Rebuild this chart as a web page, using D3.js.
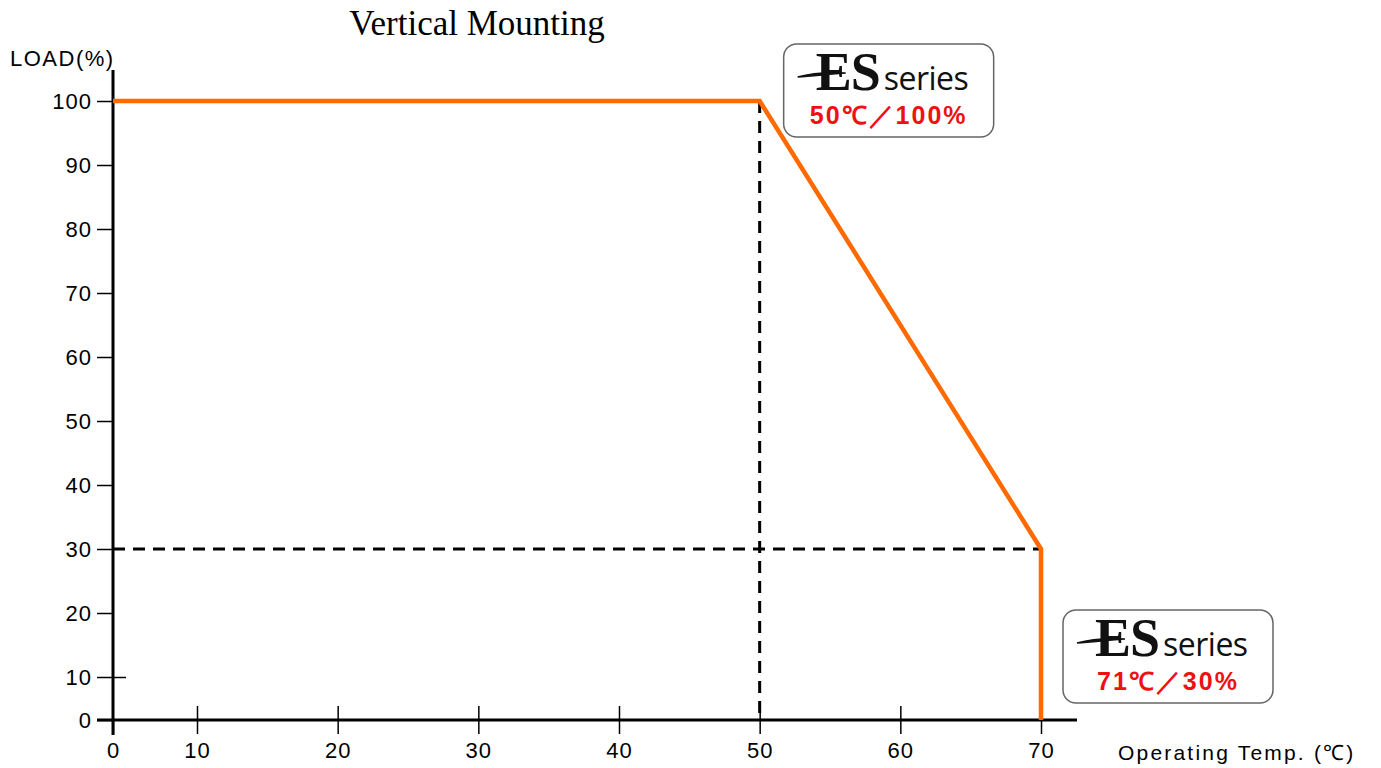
<!DOCTYPE html>
<html>
<head>
<meta charset="utf-8">
<script src="https://cdn.jsdelivr.net/npm/d3@7"></script>
<style>
  body { margin: 0; background: #fff; }
  svg { display: block; }
</style>
</head>
<body>
<div id="chart"></div>
<script>
// data
var tempValues = [0, 50, 70, 70];
var loadValues = [100, 100, 30, 0];
var xTicks = [0, 10, 20, 30, 40, 50, 60, 70];
var yTicks = [0, 10, 20, 30, 40, 50, 60, 70, 80, 90, 100];
var labelTemps = [50, 70];
var labelLoads = [100, 30];
var labelTexts = ["50℃／100%", "71℃／30%"];

var width = 1381, height = 768;

var svg = d3.select("#chart")
    .append("svg")
    .attr("width", width)
    .attr("height", height);

// axes are compressed between 0 and 10 in the original
var xScale = d3.scaleLinear()
    .domain([0, 10, 70])
    .range([113, 197, 1041]);

var yScale = d3.scaleLinear()
    .domain([0, 10, 100])
    .range([720, 677, 101]);

//title
svg.append("text")
    .attr("x", 477)
    .attr("y", 35)
    .attr("text-anchor", "middle")
    .attr("font-family", "'Liberation Serif', 'DejaVu Serif', serif")
    .attr("font-size", 35)
    .text("Vertical Mounting");

//y-axis label
svg.append("text")
    .attr("x", 10)
    .attr("y", 66)
    .attr("font-family", "'Liberation Sans', Arial, sans-serif")
    .attr("font-size", 22)
    .attr("letter-spacing", 1.5)
    .text("LOAD(%)");

//x-axis label
svg.append("text")
    .attr("x", 1118)
    .attr("y", 760)
    .attr("font-family", "'Liberation Sans', Arial, sans-serif")
    .attr("font-size", 21)
    .attr("letter-spacing", 2.2)
    .text("Operating Temp. (℃)");

//y axis
var y_axis = d3.axisLeft(yScale)
    .tickValues(yTicks)
    .tickSizeInner(16)
    .tickSizeOuter(0)
    .tickPadding(5);
var gy = svg.append("g")
    .attr("transform", "translate(113,0)")
    .call(y_axis);
gy.select(".domain").remove();
gy.selectAll("line").attr("stroke", "#000").attr("stroke-width", 1.5);
gy.selectAll("text")
    .attr("font-family", "'Liberation Sans', Arial, sans-serif")
    .attr("font-size", 22)
    .attr("letter-spacing", 1)
    .attr("fill", "#000");

// the 10 tick pokes through to the right
svg.append("g")
    .attr("transform", "translate(113,0)")
    .call(d3.axisRight(yScale).tickValues([10]).tickSize(13).tickFormat(""))
    .call(g => g.select(".domain").remove())
    .selectAll("line").attr("stroke", "#000").attr("stroke-width", 1.5);

//x axis
var x_axis = d3.axisBottom(xScale)
    .tickValues(xTicks)
    .tickSizeInner(14)
    .tickSizeOuter(0)
    .tickPadding(8);
var gx = svg.append("g")
    .attr("transform", "translate(0,720)")
    .call(x_axis);
gx.select(".domain").remove();
gx.selectAll("line")
    .attr("y1", function (d) { return d == 0 ? 0 : -14; })
    .attr("stroke", "#000")
    .attr("stroke-width", 1.5);
gx.selectAll("text")
    .attr("font-family", "'Liberation Sans', Arial, sans-serif")
    .attr("font-size", 22)
    .attr("letter-spacing", 1)
    .attr("fill", "#000");

//axis lines
svg.append("line")
    .attr("x1", 113).attr("x2", 113)
    .attr("y1", 70).attr("y2", 735)
    .attr("stroke", "#000").attr("stroke-width", 3);
svg.append("line")
    .attr("x1", 97).attr("x2", 1077)
    .attr("y1", 720).attr("y2", 720)
    .attr("stroke", "#000").attr("stroke-width", 3);

//dashed guide lines
svg.append("line")
    .attr("x1", xScale(50)).attr("x2", xScale(50))
    .attr("y1", yScale(100)).attr("y2", yScale(0))
    .attr("stroke", "#000").attr("stroke-width", 3)
    .attr("stroke-dasharray", "12,8");
svg.append("line")
    .attr("x1", xScale(0)).attr("x2", xScale(70))
    .attr("y1", yScale(30)).attr("y2", yScale(30))
    .attr("stroke", "#000").attr("stroke-width", 3)
    .attr("stroke-dasharray", "12,8");

//derating curve
var line = d3.line()
    .x(function (d, i) { return xScale(tempValues[i]); })
    .y(function (d, i) { return yScale(loadValues[i]); });
svg.append("path")
    .attr("d", line(tempValues))
    .attr("fill", "none")
    .attr("stroke", "#ff6a00")
    .attr("stroke-width", 4.5)
    .attr("stroke-linejoin", "miter");

//series label boxes
var boxOffsets = [[24, -57], [22, 61]];
var boxes = svg.selectAll(".lbl")
    .data(labelTexts)
    .enter()
    .append("g")
    .attr("class", "lbl")
    .attr("transform", function (d, i) {
        return "translate(" + (xScale(labelTemps[i]) + boxOffsets[i][0]) + "," + (yScale(labelLoads[i]) + boxOffsets[i][1]) + ")";
    });

boxes.append("rect")
    .attr("width", 210)
    .attr("height", 93)
    .attr("rx", 13)
    .attr("fill", "#fff")
    .attr("stroke", "#666")
    .attr("stroke-width", 1.5);

boxes.append("text")
    .attr("x", 32)
    .attr("y", 46)
    .attr("font-family", "'Liberation Serif', 'DejaVu Serif', serif")
    .attr("font-size", 54)
    .attr("font-weight", "bold")
    .attr("letter-spacing", -1)
    .attr("fill", "#111")
    .text("ES");

// swoosh of the logo
boxes.append("path")
    .attr("d", "M14,33 C28,29 44,28 62,29 C46,30 30,32 14,33 Z")
    .attr("fill", "#111")
    .attr("stroke", "#111")
    .attr("stroke-width", 1.5);

boxes.append("text")
    .attr("x", 100)
    .attr("y", 46)
    .attr("font-family", "'Open Sans', 'DejaVu Sans', sans-serif")
    .attr("font-size", 32)
    .attr("letter-spacing", -0.5)
    .attr("fill", "#111")
    .text("series");

boxes.append("text")
    .attr("x", 105)
    .attr("y", 80)
    .attr("text-anchor", "middle")
    .attr("font-family", "'Liberation Sans', Arial, sans-serif")
    .attr("font-size", 25)
    .attr("font-weight", "bold")
    .attr("letter-spacing", 2)
    .attr("fill", "#ee1111")
    .text(function (d) { return d; });
</script>
</body>
</html>
